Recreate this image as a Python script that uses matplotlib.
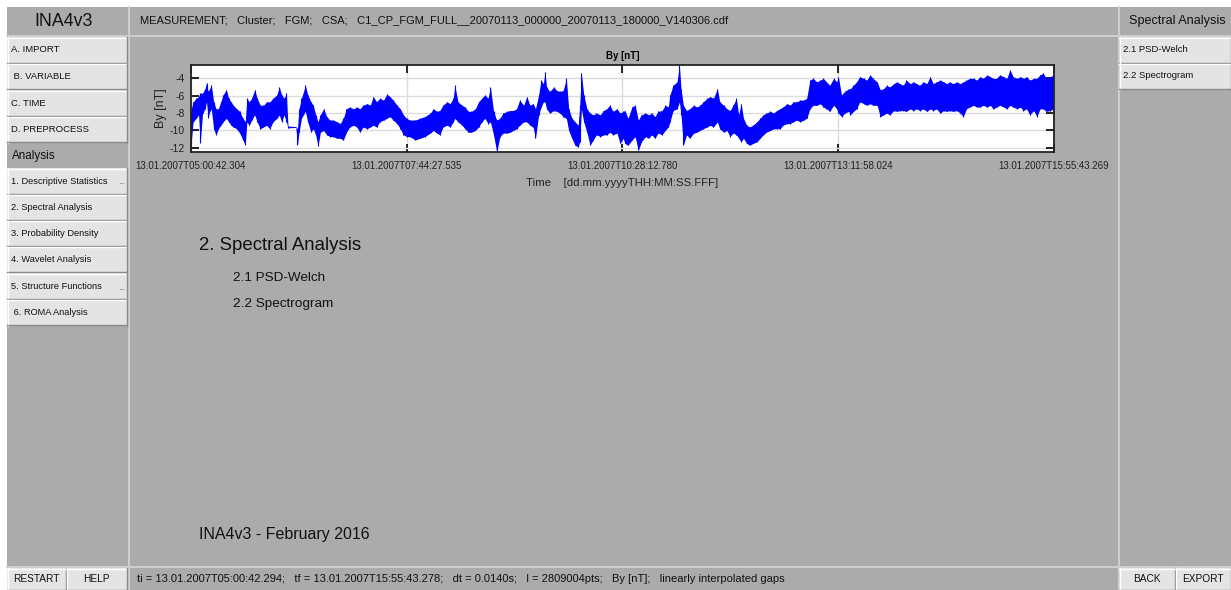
import numpy as np
import matplotlib
matplotlib.use("Agg")
import matplotlib.pyplot as plt
from matplotlib.patches import Rectangle

plt.rcParams['font.family'] = ['Liberation Sans', 'DejaVu Sans']
plt.rcParams['axes.unicode_minus'] = False

# ---- dados: envelope de By [nT] (max/min por bloco), tempo em horas desde ti ----
t_horas = [
    0.00, 0.03, 0.07, 0.10, 0.12, 0.15, 0.18, 0.20, 0.22, 0.24, 0.26, 0.29, 0.32, 0.35, 0.38,
    0.41, 0.45, 0.48, 0.51, 0.54, 0.58, 0.62, 0.66, 0.69, 0.71, 0.74, 0.77, 0.81, 0.84, 0.88,
    0.92, 0.96, 1.00, 1.04, 1.09, 1.12, 1.15, 1.18, 1.21, 1.23, 1.33, 1.35, 1.37, 1.40, 1.45,
    1.48, 1.52, 1.55, 1.58, 1.61, 1.64, 1.68, 1.72, 1.76, 1.80, 1.85, 1.89, 1.93, 1.97, 2.01,
    2.06, 2.10, 2.14, 2.18, 2.23, 2.27, 2.31, 2.35, 2.39, 2.44, 2.48, 2.52, 2.56, 2.61, 2.65,
    2.69, 2.73, 2.77, 2.84, 2.90, 2.96, 3.03, 3.07, 3.11, 3.15, 3.19, 3.24, 3.28, 3.32, 3.34,
    3.38, 3.43, 3.47, 3.51, 3.55, 3.60, 3.64, 3.68, 3.72, 3.76, 3.79, 3.83, 3.87, 3.91, 3.95,
    4.00, 4.04, 4.08, 4.12, 4.16, 4.21, 4.25, 4.29, 4.33, 4.36, 4.40, 4.43, 4.46, 4.48, 4.50,
    4.54, 4.59, 4.63, 4.67, 4.71, 4.75, 4.78, 4.82, 4.86, 4.90, 4.92, 4.94, 4.97, 5.01, 5.05,
    5.09, 5.13, 5.18, 5.22, 5.26, 5.30, 5.34, 5.39, 5.43, 5.47, 5.49, 5.53, 5.58, 5.62, 5.66,
    5.70, 5.75, 5.79, 5.83, 5.87, 5.91, 5.96, 6.00, 6.04, 6.06, 6.10, 6.15, 6.18, 6.20, 6.23,
    6.27, 6.31, 6.36, 6.40, 6.44, 6.48, 6.53, 6.57, 6.61, 6.66, 6.69, 6.74, 6.78, 6.82, 6.86,
    6.90, 6.93, 6.96, 6.99, 7.03, 7.07, 7.11, 7.16, 7.20, 7.24, 7.28, 7.33, 7.37, 7.41, 7.45,
    7.49, 7.54, 7.58, 7.62, 7.66, 7.71, 7.75, 7.79, 7.83, 7.87, 7.92, 7.96, 8.00, 8.04, 8.08,
    8.13, 8.17, 8.19, 8.23, 8.27, 8.32, 8.34, 8.38, 8.42, 8.46, 8.51, 8.55, 8.59, 8.63, 8.68,
    8.72, 8.76, 8.80, 8.84, 8.89, 8.93, 8.97, 9.01, 9.05, 9.10, 9.14, 9.18, 9.22, 9.26, 9.31,
    9.35, 9.39, 9.43, 9.48, 9.52, 9.56, 9.60, 9.64, 9.69, 9.73, 9.77, 9.81, 9.85, 9.90, 9.94,
    9.98, 10.02, 10.07, 10.11, 10.15, 10.19, 10.23, 10.28, 10.32, 10.36, 10.40, 10.45, 10.49, 10.53, 10.57,
    10.61, 10.66, 10.70, 10.74, 10.78, 10.82, 10.87, 10.91,
]
by_max = [
    -7.8, -6.7, -6.3, -6.1, -5.7, -5.7, -5.2, -4.5, -5.5, -5.2, -4.7, -6.7, -7.5, -7.5, -6.7,
    -5.9, -5.3, -6.3, -6.7, -7.1, -7.5, -7.8, -8.6, -9.0, -6.3, -6.7, -6.3, -5.3, -6.3, -7.1,
    -7.1, -6.7, -6.7, -6.3, -5.9, -5.0, -5.9, -6.3, -5.7, -9.5, -9.55, -9.8, -7.5, -6.3, -4.8,
    -5.9, -6.7, -7.1, -8.2, -9.0, -8.2, -7.5, -8.4, -8.8, -8.8, -9.0, -9.2, -8.6, -7.5, -7.3,
    -7.5, -7.3, -7.5, -7.1, -6.9, -7.1, -6.1, -6.7, -6.3, -6.5, -5.8, -6.1, -6.5, -7.1, -7.5,
    -8.2, -8.6, -8.8, -8.8, -8.6, -8.4, -8.0, -7.5, -7.8, -7.7, -7.1, -6.7, -6.9, -6.3, -4.8,
    -6.7, -7.1, -7.3, -7.8, -7.8, -7.5, -6.7, -6.3, -5.9, -6.3, -5.0, -7.8, -8.8, -8.6, -8.0,
    -7.8, -7.7, -7.7, -7.5, -6.5, -7.1, -6.1, -7.1, -6.9, -7.5, -5.9, -4.2, -4.6, -3.2, -5.0,
    -5.5, -5.0, -5.4, -5.5, -5.4, -4.0, -7.5, -8.6, -9.0, -9.4, -7.1, -3.4, -5.9, -7.5, -8.0,
    -8.2, -8.0, -8.2, -7.7, -7.5, -7.1, -7.8, -7.5, -8.0, -7.8, -7.7, -8.6, -7.3, -7.1, -8.8,
    -8.2, -8.0, -8.2, -8.0, -8.4, -7.8, -7.7, -7.1, -7.3, -5.9, -4.8, -4.4, -2.5, -5.2, -7.1,
    -7.7, -7.5, -7.1, -7.3, -7.1, -6.7, -6.3, -6.1, -6.3, -5.2, -6.7, -7.1, -7.5, -7.7, -7.1,
    -6.3, -8.2, -6.9, -8.6, -9.4, -9.6, -9.4, -9.0, -8.6, -8.2, -8.0, -7.8, -8.0, -7.7, -7.5,
    -7.3, -6.9, -7.1, -6.7, -6.7, -6.5, -6.5, -6.3, -4.2, -4.0, -4.4, -4.2, -4.0, -4.4, -4.8,
    -4.0, -4.4, -3.8, -5.9, -5.5, -5.2, -5.2, -4.8, -4.4, -3.8, -4.0, -4.2, -3.6, -4.0, -4.4,
    -5.3, -5.2, -4.8, -5.0, -4.6, -4.4, -4.6, -4.8, -4.2, -4.6, -4.4, -4.6, -4.8, -4.4, -4.6,
    -3.8, -4.6, -4.4, -4.2, -4.4, -4.6, -4.4, -4.6, -4.4, -4.6, -4.4, -4.2, -4.0, -4.0, -4.2,
    -3.8, -4.0, -3.6, -3.8, -4.0, -4.0, -3.6, -3.8, -4.0, -3.0, -3.8, -4.0, -3.8, -4.0, -3.8,
    -4.2, -4.0, -4.0, -3.6, -3.4, -4.0, -3.8, -3.6,
]
by_min = [
    -12.1, -9.0, -8.6, -8.2, -11.5, -8.0, -7.5, -6.7, -8.6, -7.8, -7.5, -9.8, -10.5, -9.8, -9.4,
    -9.0, -8.6, -9.0, -9.4, -9.6, -9.8, -10.3, -11.1, -11.7, -9.0, -9.4, -8.8, -8.2, -9.0, -9.8,
    -9.6, -9.4, -9.8, -9.0, -8.6, -8.2, -9.0, -8.2, -9.0, -9.7, -9.65, -11.7, -10.2, -8.6, -7.8,
    -9.0, -10.2, -9.8, -10.5, -11.8, -10.2, -10.0, -10.5, -10.7, -10.7, -10.9, -10.9, -11.1, -10.2, -9.6,
    -9.4, -9.6, -10.2, -9.6, -9.8, -9.6, -9.4, -9.6, -9.0, -8.8, -8.6, -8.4, -8.8, -9.2, -9.8,
    -10.5, -10.7, -10.7, -11.1, -10.9, -10.7, -10.3, -10.0, -10.3, -10.5, -9.6, -9.4, -9.6, -9.0, -8.6,
    -9.0, -9.4, -9.8, -10.2, -10.2, -10.0, -9.6, -9.0, -8.6, -9.2, -9.0, -10.5, -12.5, -10.7, -10.3,
    -10.3, -10.2, -10.0, -9.8, -9.4, -9.0, -9.0, -9.4, -9.6, -10.9, -8.2, -7.3, -6.7, -6.7, -7.5,
    -8.0, -7.7, -7.8, -8.0, -8.4, -8.6, -10.0, -10.9, -11.7, -11.9, -11.3, -7.5, -9.0, -10.2, -11.7,
    -11.1, -10.5, -10.7, -10.5, -10.5, -10.2, -10.5, -10.3, -11.5, -10.9, -11.5, -11.7, -11.1, -10.7, -12.3,
    -11.3, -10.7, -10.9, -10.5, -10.9, -10.3, -10.5, -10.0, -9.6, -9.0, -7.7, -7.5, -6.7, -8.2, -11.7,
    -10.5, -10.9, -10.3, -10.2, -10.0, -9.8, -9.6, -9.4, -9.6, -9.0, -9.8, -10.2, -10.0, -10.7, -10.3,
    -10.5, -10.9, -11.3, -10.9, -11.5, -11.7, -11.5, -11.3, -10.9, -10.5, -10.2, -10.0, -9.8, -9.8, -9.8,
    -9.4, -9.2, -9.2, -9.0, -8.8, -9.0, -8.8, -8.6, -7.5, -7.1, -7.1, -6.9, -7.3, -7.5, -7.8,
    -7.1, -7.5, -8.0, -8.4, -8.0, -7.8, -8.2, -7.8, -7.5, -6.7, -6.9, -7.1, -6.9, -7.1, -7.1,
    -8.4, -8.2, -8.0, -8.2, -7.7, -7.8, -7.7, -7.7, -7.8, -7.5, -7.7, -7.5, -7.7, -7.5, -7.8,
    -7.5, -7.7, -7.5, -8.0, -7.7, -7.8, -7.7, -7.8, -7.7, -8.0, -8.4, -7.5, -7.3, -7.1, -7.3,
    -7.3, -7.1, -7.3, -7.1, -7.5, -7.3, -7.1, -7.3, -7.5, -7.1, -7.3, -7.5, -7.3, -7.7, -7.5,
    -8.2, -7.7, -8.4, -7.5, -7.5, -7.8, -7.7, -7.5,
]
t_fim = 10.9169  # 15:55:43.269 - 05:00:42.304 em horas
rotulos_x = ['13.01.2007T05:00:42.304', '13.01.2007T07:44:27.535', '13.01.2007T10:28:12.780',
             '13.01.2007T13:11:58.024', '13.01.2007T15:55:43.269']
ticks_y = [-12, -10, -8, -6, -4]

menu_esq = ['A. IMPORT', ' B. VARIABLE', 'C. TIME', 'D. PREPROCESS']
menu_analise = ['1. Descriptive Statistics', '2. Spectral Analysis', '3. Probability Density',
                '4. Wavelet Analysis', '5. Structure Functions', ' 6. ROMA Analysis']
menu_dir = ['2.1 PSD-Welch', '2.2 Spectrogram']

W, H = 1231, 590
CINZA = '#ababab'
BOTAO = '#e4e4e4'
TXT = '#111111'

fig = plt.figure(figsize=(W / 100, H / 100), dpi=100)
fig.patch.set_facecolor('white')

# eixo em pixels para desenhar a interface
gui = fig.add_axes([0, 0, 1, 1])
gui.set_xlim(0, W)
gui.set_ylim(H, 0)
gui.axis('off')


def painel(x0, y0, x1, y1, cor=CINZA):
    gui.add_patch(Rectangle((x0, y0), x1 - x0, y1 - y0, fc=cor, ec='none'))


def botao(x0, y0, x1, y1, texto, fs=6.8, centro=False, pontos=False):
    gui.add_patch(Rectangle((x0, y0), x1 - x0, y1 - y0, fc=BOTAO, ec='none'))
    gui.plot([x0, x1], [y0 + 0.5, y0 + 0.5], color='white', lw=1)
    gui.plot([x0 + 0.5, x0 + 0.5], [y0, y1], color='white', lw=1)
    gui.plot([x0, x1], [y1 - 0.5, y1 - 0.5], color='#8a8a8a', lw=1)
    gui.plot([x1 - 0.5, x1 - 0.5], [y0, y1], color='#8a8a8a', lw=1)
    if centro:
        gui.text((x0 + x1) / 2, (y0 + y1) / 2, texto, ha='center', va='center', fontsize=fs, color=TXT)
    else:
        gui.text(x0 + 4, (y0 + y1) / 2, texto, ha='left', va='center', fontsize=fs, color=TXT)
    if pontos:
        gui.text(x1 - 8, (y0 + y1) / 2 + 2, '...', ha='left', va='center', fontsize=5, color='#333333')


# fundo geral
painel(7, 7, W, H)
# linhas de separacao dos paineis
gui.plot([128.5, 128.5], [7, H], color='#d0d0d0', lw=1.4)
gui.plot([1118.5, 1118.5], [7, H], color='#d0d0d0', lw=1.4)
gui.plot([7, W], [35.5, 35.5], color='#d0d0d0', lw=1.4)
gui.plot([7, W], [566.5, 566.5], color='#d0d0d0', lw=1.4)

# cabecalho
gui.text(64, 21, 'INA4v3', ha='center', va='center', fontsize=12.8, color=TXT)
gui.text(140, 20, 'MEASUREMENT;   Cluster;   FGM;   CSA;   C1_CP_FGM_FULL__20070113_000000_20070113_180000_V140306.cdf',
         ha='left', va='center', fontsize=8.05, color=TXT)
gui.text(1177, 21, 'Spectral Analysis', ha='center', va='center', fontsize=9.1, color=TXT)

# menu da esquerda
y = 37
for nome in menu_esq:
    botao(7, y, 127, y + 26, nome)
    y += 26.5
gui.text(12, 156, 'Analysis', ha='left', va='center', fontsize=8.4, color=TXT)
y = 168
for nome in menu_analise:
    botao(7, y, 127, y + 26, nome, fs=6.7, pontos=nome.startswith(('1.', '5.')))
    y += 26.3

# menu da direita
botao(1119, 37, W, 63, menu_dir[0], fs=6.8)
botao(1119, 63, W, 89, menu_dir[1], fs=6.8)

# barra inferior
botao(7, 568, 66, H, 'RESTART', fs=7.3, centro=True)
botao(66, 568, 127, H, 'HELP', fs=7.3, centro=True)
botao(1119, 568, 1175, H, 'BACK', fs=7.3, centro=True)
botao(1175, 568, W, H, 'EXPORT', fs=7.3, centro=True)
gui.text(137, 579, 'ti = 13.01.2007T05:00:42.294;   tf = 13.01.2007T15:55:43.278;   dt = 0.0140s;   '
         'l = 2809004pts;   By [nT];   linearly interpolated gaps',
         ha='left', va='center', fontsize=8.05, color=TXT)

# textos do painel central
gui.text(199, 246, '2. Spectral Analysis', ha='left', va='center', fontsize=13.4, color=TXT)
gui.text(233, 278, '2.1 PSD-Welch', ha='left', va='center', fontsize=9.7, color=TXT)
gui.text(233, 304, '2.2 Spectrogram', ha='left', va='center', fontsize=9.7, color=TXT)
gui.text(199, 535, 'INA4v3 - February 2016', ha='left', va='center', fontsize=11.5, color=TXT)

# ---- grafico By ----
x0, y0, x1, y1 = 190.7, 65, 1054, 151.7
ax = fig.add_axes([x0 / W, 1 - y1 / H, (x1 - x0) / W, (y1 - y0) / H])
ax.set_facecolor('white')
t = np.array(t_horas)
hi = np.array(by_max)
lo = np.array(by_min)
ax.fill_between(t, lo, hi, color='#0000ff', lw=0)
ax.vlines(t, lo, hi, color='#0000ff', lw=0.8)

ax.set_xlim(0, t_fim)
ax.set_ylim(-12.45, -2.45)
ax.set_xticks(np.linspace(0, t_fim, 5))
ax.set_xticklabels(rotulos_x)
ax.set_yticks(ticks_y)
ax.grid(True, color='#dcdcdc', lw=1)
ax.set_axisbelow(True)
ax.tick_params(direction='in', length=6, width=1.2, top=True, right=True,
               labelsize=7, labelcolor='#222222')
ax.tick_params(axis='x', pad=7)
ax.tick_params(axis='y', pad=4, labelsize=7.5)
for s in ax.spines.values():
    s.set_linewidth(1.3)
    s.set_color('#222222')
ax.set_title('By [nT]', fontsize=7, fontweight='bold', pad=4)
ax.set_ylabel('By [nT]', fontsize=9, color='#222222', labelpad=2)
ax.set_xlabel('Time    [dd.mm.yyyyTHH:MM:SS.FFF]', fontsize=8.2, color='#222222', labelpad=5)

fig.savefig('out.png', dpi=100, facecolor=fig.get_facecolor())
